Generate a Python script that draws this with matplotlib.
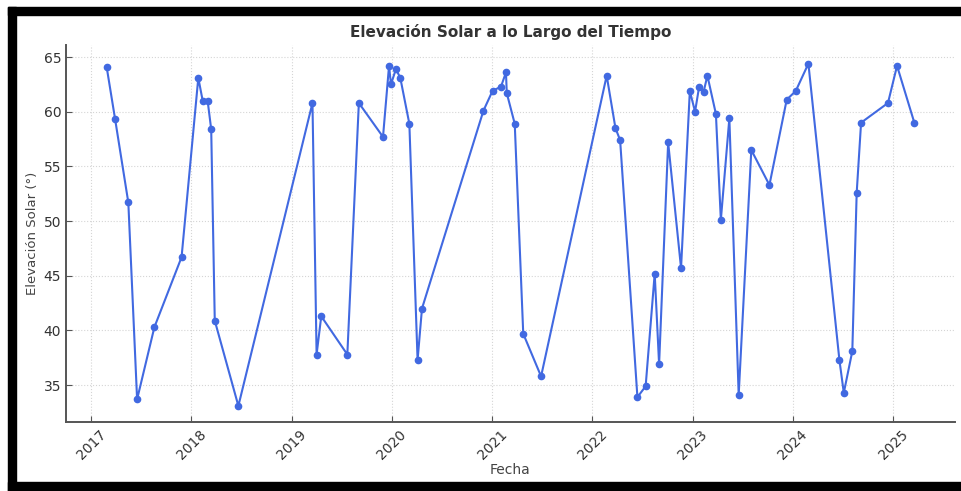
import matplotlib
matplotlib.use("Agg")
import matplotlib.pyplot as plt
import matplotlib.dates as mdates
from matplotlib.patches import Rectangle
import pandas as pd

# datos
fechas = [
    "2017-02-26", "2017-03-29", "2017-05-16", "2017-06-17", "2017-08-19", "2017-11-26",
    "2018-01-26", "2018-02-11", "2018-03-01", "2018-03-14", "2018-03-27", "2018-06-21",
    "2019-03-18", "2019-04-02", "2019-04-19", "2019-07-23", "2019-09-03", "2019-11-30",
    "2019-12-22", "2019-12-29", "2020-01-16", "2020-02-01", "2020-03-05", "2020-04-04",
    "2020-04-20", "2020-11-30", "2021-01-02", "2021-02-02", "2021-02-20", "2021-02-23",
    "2021-03-24", "2021-04-24", "2021-06-28", "2022-02-22", "2022-03-26", "2022-04-12",
    "2022-06-14", "2022-07-14", "2022-08-16", "2022-09-01", "2022-10-04", "2022-11-20",
    "2022-12-22", "2023-01-10", "2023-01-25", "2023-02-10", "2023-02-24", "2023-03-27",
    "2023-04-14", "2023-05-15", "2023-06-18", "2023-08-03", "2023-10-08", "2023-12-10",
    "2024-01-12", "2024-02-27", "2024-06-19", "2024-07-05", "2024-08-05", "2024-08-21",
    "2024-09-06", "2024-12-13", "2025-01-15", "2025-03-19",
]
elevacion = [
    64.1, 59.3, 51.7, 33.7, 40.3, 46.7,
    63.1, 61.0, 61.0, 58.4, 40.9, 33.1,
    60.8, 37.8, 41.3, 37.8, 60.8, 57.7,
    64.2, 62.5, 63.9, 63.1, 58.9, 37.3,
    42.0, 60.1, 61.9, 62.3, 63.6, 61.7,
    58.9, 39.7, 35.8, 63.3, 58.5, 57.4,
    33.9, 34.9, 45.2, 36.9, 57.2, 45.7,
    61.9, 60.0, 62.3, 61.8, 63.3, 59.8,
    50.1, 59.4, 34.1, 56.5, 53.3, 61.1,
    61.9, 64.4, 37.3, 34.3, 38.1, 52.6,
    59.0, 60.8, 64.2, 59.0,
]

fechas = pd.to_datetime(fechas)

fig = plt.figure(figsize=(9.61, 4.91), dpi=100)
ax = fig.add_axes([0.0687, 0.1399, 0.925, 0.7684])

ax.plot(fechas, elevacion, color="royalblue", marker="o", markersize=4.5, linewidth=1.5)

ax.set_title("Elevación Solar a lo Largo del Tiempo", fontsize=11, fontweight="bold", color="#333333")
ax.set_xlabel("Fecha", fontsize=10, color="#444444", labelpad=1)
ax.set_ylabel("Elevación Solar (°)", fontsize=9.5, color="#444444", labelpad=3)

ax.set_xlim(pd.Timestamp("2016-10-01"), pd.Timestamp("2025-08-14"))
ax.set_ylim(31.6, 66.1)
ax.set_yticks([35, 40, 45, 50, 55, 60, 65])
ax.xaxis.set_major_locator(mdates.YearLocator())
ax.xaxis.set_major_formatter(mdates.DateFormatter("%Y"))
plt.setp(ax.get_xticklabels(), rotation=45)

ax.grid(True, linestyle=":", color="#d5d5d5", linewidth=0.8)
ax.tick_params(direction="in", length=4, colors="#555555", labelcolor="#333333", labelsize=10)
for s in ["top", "right"]:
    ax.spines[s].set_visible(False)
for s in ["left", "bottom"]:
    ax.spines[s].set_color("#555555")
    ax.spines[s].set_linewidth(1.4)

# marco negro de la captura
W, H = 961, 491
def banda(x0, y0, x1, y1):
    fig.patches.append(Rectangle((x0 / W, 1 - y1 / H), (x1 - x0) / W, (y1 - y0) / H,
                                 transform=fig.transFigure, color="black", zorder=10))
banda(8, 7, 961, 15)
banda(8, 7, 16, 491)
banda(8, 482, 961, 491)

fig.savefig("out.png", dpi=100)
